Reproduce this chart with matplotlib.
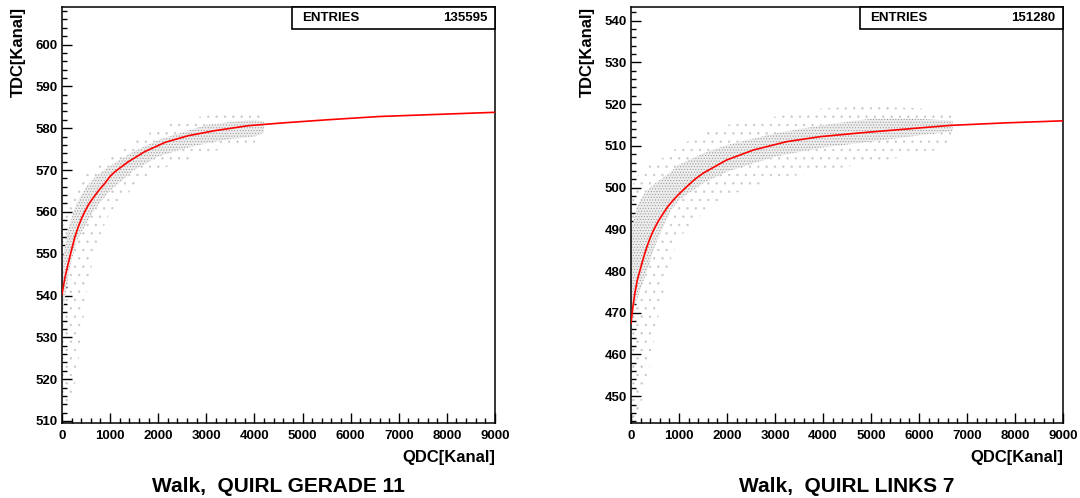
import numpy as np
import matplotlib.pyplot as plt
from matplotlib.ticker import MultipleLocator
from matplotlib.patches import Rectangle

plt.rcParams['font.family'] = ['Liberation Sans', 'DejaVu Sans']
plt.rcParams['font.weight'] = 'bold'
plt.rcParams['hatch.linewidth'] = 0.45

##--------------------------DATA------------------------##
# left: QUIRL GERADE 11
entries_l = 135595
qdc_fit_l = [0, 60, 130, 200, 270, 340, 410, 480, 550, 620, 690, 790, 890, 1000, 1100, 1380, 1720, 2140, 2620,
             3170, 3870, 4630, 5500, 6600, 7800, 9000]
tdc_fit_l = [540.3, 544.2, 547.7, 551.0, 554.1, 556.5, 558.5, 560.2, 561.7, 562.9, 564.0, 565.5, 566.8, 568.5, 569.6,
             572.0, 574.4, 576.6, 578.2, 579.4, 580.6, 581.3, 582.0, 582.8, 583.3, 583.8]
qdc_band_l = [0, 150, 300, 500, 700, 1000, 1500, 2000, 2500, 3000, 3500, 4000, 4200]
core_lo_l = [535, 546, 553, 557, 561, 565, 570, 573.2, 575, 576.4, 577.4, 578, 579]
core_hi_l = [548, 557, 562, 566, 568.5, 571, 574.5, 577.2, 579, 580.8, 581.5, 582, 581.5]
halo_lo_l = [513, 515, 520, 540, 552, 560, 566, 570, 572, 574, 575.5, 576.5, 578]
halo_hi_l = [556, 562, 566, 569, 571, 573.5, 577, 580, 582, 583, 584, 584, 583]

# right: QUIRL LINKS 7
entries_r = 151280
qdc_fit_r = [0, 40, 80, 130, 190, 260, 330, 400, 470, 570, 670, 770, 880, 1020, 1160, 1330, 1510, 1990, 2550,
             3240, 3940, 4770, 5600, 6650, 7800, 9000]
tdc_fit_r = [467.5, 471.5, 474.7, 477.8, 480.3, 483.2, 485.8, 488.0, 489.8, 492.0, 493.8, 495.5, 497.0, 498.7,
             500.2, 502.0, 503.5, 506.6, 509.0, 511.0, 512.2, 513.1, 513.9, 514.9, 515.5, 516.0]
qdc_band_r = [0, 150, 300, 500, 800, 1000, 1500, 2000, 3000, 4000, 5000, 6000, 6700]
core_lo_r = [470, 474, 479, 486, 494, 497, 501, 503.8, 507.4, 509.6, 511, 512.5, 513.5]
core_hi_r = [490, 496, 499, 501, 503.5, 505.5, 508.2, 510.2, 513, 515, 516.5, 516.5, 516]
halo_lo_r = [444, 446, 452, 465, 482, 488, 494, 498, 502, 504, 506, 508, 510]
halo_hi_r = [500, 503, 505, 506, 508, 510, 513, 515, 517, 519, 519.5, 519, 518]

titles = ['Walk,  QUIRL GERADE 11', 'Walk,  QUIRL LINKS 7']

##--------------------------PLOT------------------------##
fig = plt.figure(figsize=(10.8, 4.98), dpi=100)

panels = [
    ([0.0574, 0.15, 0.4009, 0.8353], (509.45, 608.9), entries_l, qdc_fit_l, tdc_fit_l,
     qdc_band_l, core_lo_l, core_hi_l, halo_lo_l, halo_hi_l, titles[0]),
    ([0.5843, 0.15, 0.4000, 0.8353], (443.5, 543.2), entries_r, qdc_fit_r, tdc_fit_r,
     qdc_band_r, core_lo_r, core_hi_r, halo_lo_r, halo_hi_r, titles[1]),
]

for rect, ylim, entries, qf, tf, qb, clo, chi, hlo, hhi, title in panels:
    ax = fig.add_axes(rect)
    # scatter cloud drawn as stippled bands
    ax.fill_between(qb, hlo, hhi, facecolor='none', edgecolor='#c8c8c8', hatch='..', linewidth=0, zorder=1)
    ax.fill_between(qb, clo, chi, facecolor='#ededed', edgecolor='#999999', hatch='......', linewidth=0, zorder=2)
    ax.plot(qf, tf, color='red', lw=1.2, zorder=3)

    ax.set_xlim(0, 9000)
    ax.set_ylim(*ylim)
    ax.xaxis.set_major_locator(MultipleLocator(1000))
    ax.xaxis.set_minor_locator(MultipleLocator(200))
    ax.yaxis.set_major_locator(MultipleLocator(10))
    ax.yaxis.set_minor_locator(MultipleLocator(2))
    ax.tick_params(which='both', direction='in', top=False, right=False, width=1.0, labelsize=9.5)
    ax.tick_params(which='major', length=7)
    ax.tick_params(which='minor', length=3.5)
    ax.tick_params(axis='x', pad=5)
    ax.tick_params(axis='y', pad=3)
    for s in ax.spines.values():
        s.set_linewidth(1.1)

    # entries box
    ax.add_patch(Rectangle((0.531, 0.948), 0.469, 0.052, transform=ax.transAxes,
                           facecolor='white', edgecolor='black', lw=1.2, zorder=5, clip_on=False))
    ax.text(0.554, 0.974, 'ENTRIES', transform=ax.transAxes, ha='left', va='center', fontsize=9.5, zorder=6)
    ax.text(0.982, 0.974, str(entries), transform=ax.transAxes, ha='right', va='center', fontsize=9.5, zorder=6)

    ax.text(1.0, -0.083, 'QDC[Kanal]', transform=ax.transAxes, ha='right', va='center', fontsize=12)
    ax.text(-0.1, 1.0, 'TDC[Kanal]', transform=ax.transAxes, ha='center', va='top', rotation=90, fontsize=12)
    ax.text(0.5, -0.151, title, transform=ax.transAxes, ha='center', va='center', fontsize=15)

plt.savefig('out.png', dpi=100)
